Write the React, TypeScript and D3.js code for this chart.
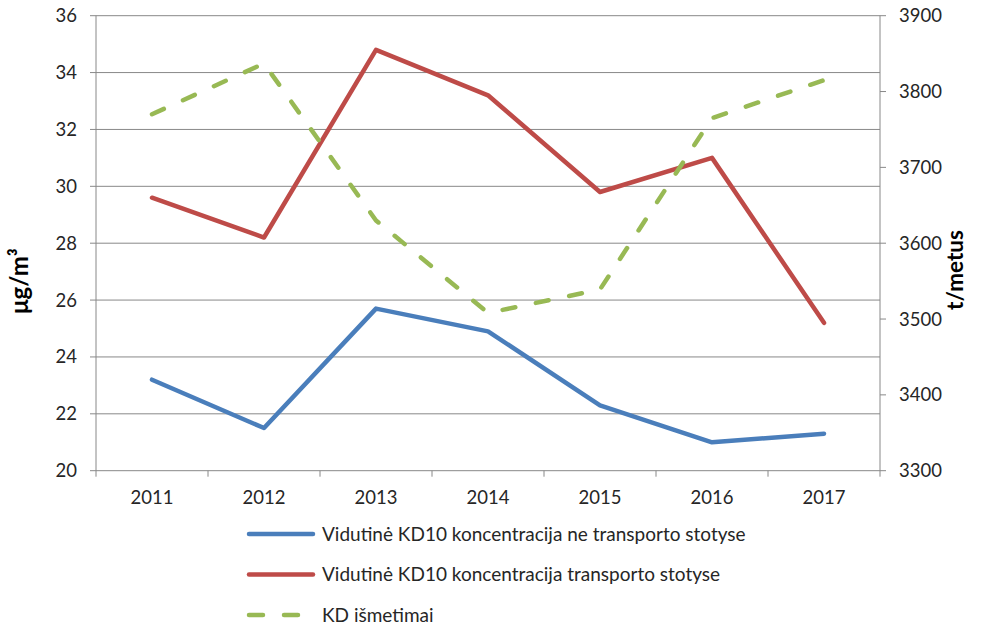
import * as d3 from 'd3'

const years = ['2011', '2012', '2013', '2014', '2015', '2016', '2017']
const nonTransport = [23.2, 21.5, 25.7, 24.9, 22.3, 21.0, 21.3]
const transport = [29.6, 28.2, 34.8, 33.2, 29.8, 31.0, 25.2]
const emissions = [3770, 3837, 3630, 3508, 3539, 3765, 3815]
const leftTicks = [20, 22, 24, 26, 28, 30, 32, 34, 36]
const rightTicks = [3300, 3400, 3500, 3600, 3700, 3800, 3900]

const seriesNames = [
  'Vidutinė KD10 koncentracija ne transporto stotyse',
  'Vidutinė KD10 koncentracija transporto stotyse',
  'KD išmetimai',
]
const colors = ['#4a7ebb', '#be4b48', '#98b954']

const W = 984
const H = 628
const left = 96
const right = 880
const top = 15.7
const bottom = 470.7
const font = 'Lato, "Open Sans", sans-serif'

export default function App() {
  const x = d3.scaleBand<string>().domain(years).range([left, right])
  const yL = d3.scaleLinear().domain([20, 36]).range([bottom, top])
  const yR = d3.scaleLinear().domain([3300, 3900]).range([bottom, top])
  const cx = (y: string) => (x(y) ?? 0) + x.bandwidth() / 2

  const lineL = d3
    .line<number>()
    .x((_, i) => cx(years[i]))
    .y((d) => yL(d))
  const lineR = d3
    .line<number>()
    .x((_, i) => cx(years[i]))
    .y((d) => yR(d))

  const grid = '#888888'

  return (
    <svg
      width={W}
      height={H}
      style={{ position: 'absolute', left: 0, top: 0, background: '#fff' }}
      fontFamily={font}
    >
      {/* gridlines + left ticks */}
      {leftTicks.map((t) => (
        <g key={t}>
          <line x1={left - 6} x2={right} y1={yL(t)} y2={yL(t)} stroke={grid} strokeWidth={1} />
          <text x={77} y={yL(t)} dy="0.35em" textAnchor="end" fontSize={18.5} fill="#262626">
            {t}
          </text>
        </g>
      ))}
      {/* right ticks */}
      {rightTicks.map((t) => (
        <g key={t}>
          <line x1={right} x2={right + 6} y1={yR(t)} y2={yR(t)} stroke={grid} strokeWidth={1} />
          <text x={899} y={yR(t)} dy="0.35em" textAnchor="start" fontSize={18.5} fill="#262626">
            {t}
          </text>
        </g>
      ))}
      <line x1={left} x2={left} y1={top} y2={bottom} stroke={grid} />
      <line x1={right} x2={right} y1={top} y2={bottom} stroke={grid} />
      {/* category ticks */}
      {years.map((y) => (
        <line key={y} x1={x(y)} x2={x(y)} y1={bottom} y2={bottom + 6} stroke={grid} />
      ))}
      <line x1={right} x2={right} y1={bottom} y2={bottom + 6} stroke={grid} />
      {years.map((y) => (
        <text key={y} x={cx(y)} y={498} dy="0.35em" textAnchor="middle" fontSize={18.5} fill="#262626">
          {y}
        </text>
      ))}

      {/* axis titles */}
      <text
        transform={`translate(28,281) rotate(-90)`}
        textAnchor="middle"
        fontSize={24}
        fontWeight="bold"
        fill="#000"
      >
        μg/m³
      </text>
      <text
        transform={`translate(963,270) rotate(-90)`}
        textAnchor="middle"
        fontSize={22.5}
        fontWeight="bold"
        fill="#000"
      >
        t/metus
      </text>

      {/* series */}
      <path d={lineL(nonTransport) ?? ''} fill="none" stroke={colors[0]} strokeWidth={4.5} strokeLinejoin="round" strokeLinecap="round" />
      <path d={lineL(transport) ?? ''} fill="none" stroke={colors[1]} strokeWidth={4.5} strokeLinejoin="round" strokeLinecap="round" />
      <path
        d={lineR(emissions) ?? ''}
        fill="none"
        stroke={colors[2]}
        strokeWidth={4.5}
        strokeLinejoin="round"
        strokeLinecap="round"
        strokeDasharray="13 21"
      />

      {/* legend */}
      {seriesNames.map((name, i) => {
        const ly = 534 + i * 40.5
        return (
          <g key={name}>
            <line
              x1={249}
              x2={313}
              y1={ly}
              y2={ly}
              stroke={colors[i]}
              strokeWidth={4.5}
              strokeLinecap="round"
              strokeDasharray={i === 2 ? '14 21' : undefined}
            />
            <text x={322} y={ly} dy="0.35em" fontSize={19} fill="#262626">
              {name}
            </text>
          </g>
        )
      })}
    </svg>
  )
}
